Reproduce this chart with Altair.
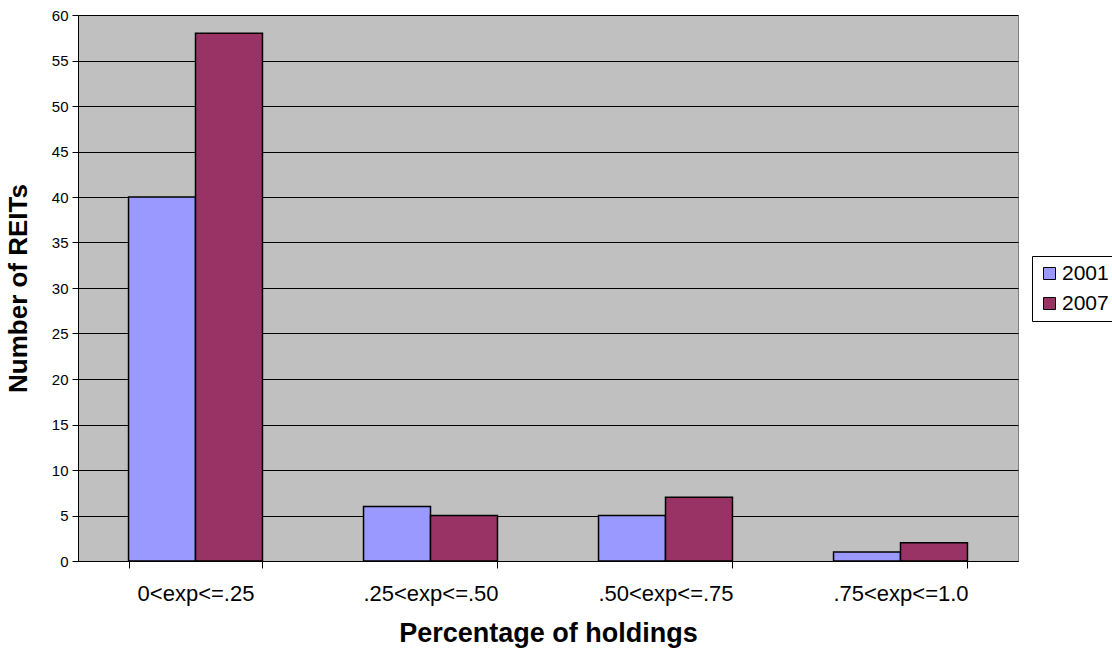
import altair as alt
import pandas as pd

categories = ["0<exp<=.25", ".25<exp<=.50", ".50<exp<=.75", ".75<exp<=1.0"]
years = ["2001", "2007"]
counts_2001 = [40, 6, 5, 1]
counts_2007 = [58, 5, 7, 2]

rows = []
for cat, a, b in zip(categories, counts_2001, counts_2007):
    rows.append({"bucket": cat, "year": "2001", "count": a})
    rows.append({"bucket": cat, "year": "2007", "count": b})
df = pd.DataFrame(rows)

FONT = "Liberation Sans"

bars = alt.Chart(df).mark_bar(stroke="black", strokeWidth=1.5).encode(
    x=alt.X(
        "bucket:N",
        sort=categories,
        title="Percentage of holdings",
        scale=alt.Scale(paddingInner=0.43, paddingOuter=0.215),
        axis=alt.Axis(
            labelAngle=0,
            labelFontSize=22,
            labelFont=FONT,
            labelColor="black",
            labelPadding=15,
            tickBand="extent",
            tickSize=7,
            tickColor="black",
            domainColor="black",
            titleFont=FONT,
            titleFontSize=27,
            titleFontWeight="bold",
            titleColor="black",
            titlePadding=16,
        ),
    ),
    xOffset=alt.XOffset("year:N", sort=years),
    y=alt.Y(
        "count:Q",
        title="Number of REITs",
        scale=alt.Scale(domain=[0, 60], nice=False),
        axis=alt.Axis(
            values=list(range(0, 61, 5)),
            labelFontSize=15,
            labelFont=FONT,
            labelColor="black",
            labelPadding=4,
            tickSize=6,
            tickColor="black",
            domainColor="black",
            gridColor="black",
            gridWidth=1,
            titleFont=FONT,
            titleFontSize=26,
            titleFontWeight="bold",
            titleColor="black",
            titlePadding=20,
        ),
    ),
    color=alt.Color(
        "year:N",
        sort=years,
        scale=alt.Scale(domain=years, range=["#9999FF", "#993366"]),
        legend=alt.Legend(
            title=None,
            orient="none",
            legendX=954,
            legendY=241,
            symbolType="square",
            symbolSize=144,
            symbolStrokeColor="black",
            symbolStrokeWidth=1,
            labelFontSize=21,
            labelFont=FONT,
            labelColor="black",
            labelOffset=2,
            strokeColor="black",
            padding=7,
            rowPadding=8,
            fillColor="white",
        ),
    ),
)

chart = bars.properties(
    width=940,
    height=546,
    autosize=alt.AutoSizeParams(type="none"),
    padding={"left": 78, "top": 15, "right": 94, "bottom": 91},
    background="white",
).configure_view(
    fill="#C0C0C0",
    stroke="#808080",
    strokeWidth=1,
)

chart.save("out.html", embed_options={"renderer": "svg", "actions": False})
